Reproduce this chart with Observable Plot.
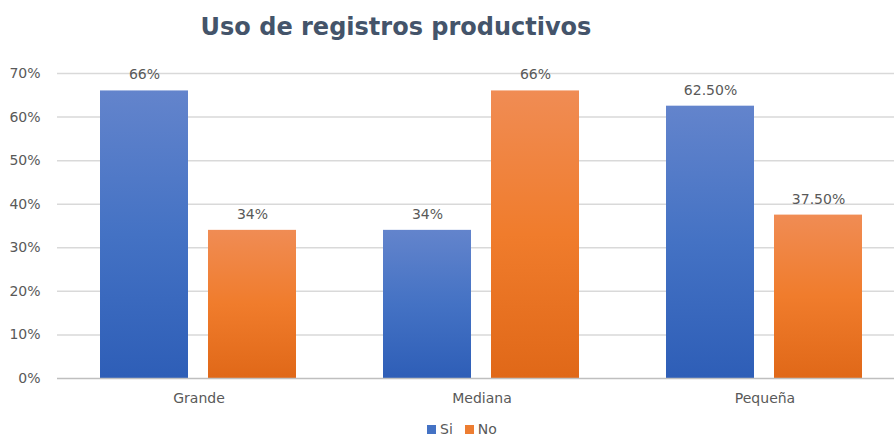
<!DOCTYPE html>
<html>
<head>
<meta charset="utf-8">
<script src="https://cdn.jsdelivr.net/npm/d3@7"></script>
<script src="https://cdn.jsdelivr.net/npm/@observablehq/plot@0.6"></script>
<style>
  html, body { margin: 0; padding: 0; background: #fff; width: 894px; height: 438px; overflow: hidden; position: relative; }
  #title { position: absolute; left: 0; top: 13px; width: 792px; text-align: center; font-family: "DejaVu Sans", sans-serif; font-weight: bold; font-size: 24px; color: #44546a; }
  #chart { position: absolute; left: 0; top: 50px; }
  #legend { position: absolute; top: 422px; left: 427px; height: 14px; line-height: 14px; font-family: "DejaVu Sans", sans-serif; font-size: 14px; color: #595959; display: flex; align-items: center; }
  #legend .sw { display: inline-block; width: 9px; height: 9px; margin-right: 4px; }
  #legend .item { display: flex; align-items: center; margin-right: 12px; }
</style>
</head>
<body>
<div id="title">Uso de registros productivos</div>
<div id="chart"></div>
<div id="legend"></div>
<script>
const groups = ["Grande", "Mediana", "Pequeña"];
const series = ["Si", "No"];
const siValues = [0.66, 0.34, 0.625];
const noValues = [0.34, 0.66, 0.375];
const siLabels = ["66%", "34%", "62.50%"];
const noLabels = ["34%", "66%", "37.50%"];
const yTicks = [0, 0.1, 0.2, 0.3, 0.4, 0.5, 0.6, 0.7];
const seriesColors = ["#4472c4", "#ed7d31"];

const data = [];
groups.forEach((g, i) => {
  data.push({group: g, series: "Si", value: siValues[i], label: siLabels[i]});
  data.push({group: g, series: "No", value: noValues[i], label: noLabels[i]});
});

const font = "DejaVu Sans, sans-serif";

const svg = Plot.plot({
  width: 906,
  height: 368,
  marginLeft: 57,
  marginRight: 0,
  marginTop: 23,
  marginBottom: 40,
  style: {fontFamily: font, fontSize: "14px", color: "#595959", background: "transparent", overflow: "visible", maxWidth: "none"},
  fx: {domain: groups, padding: 0, label: null, axis: "bottom", tickSize: 0, tickPadding: 15},
  x: {domain: series, paddingInner: 0.185, paddingOuter: 0.4, axis: null},
  y: {domain: [0, 0.7], ticks: yTicks, tickFormat: d => Math.round(d * 100) + "%", tickSize: 0, tickPadding: 17, label: null},
  marks: [
    Plot.gridY(yTicks.slice(1), {stroke: "#d9d9d9", strokeOpacity: 1, strokeWidth: 1.5}),
    Plot.barY(data.filter(d => d.series === "Si"), {fx: "group", x: "series", y: "value", fill: "url(#gradSi)"}),
    Plot.barY(data.filter(d => d.series === "No"), {fx: "group", x: "series", y: "value", fill: "url(#gradNo)"}),
    Plot.ruleY([0], {stroke: "#bfbfbf", strokeWidth: 1.5}),
    Plot.text(data, {fx: "group", x: "series", y: "value", text: "label", dy: -16, fill: "#595959", fontSize: 14})
  ]
});
svg.style.maxWidth = "none";

const defs = d3.select(svg).insert("defs", ":first-child");
function grad(id, top, mid, bottom) {
  const lg = defs.append("linearGradient").attr("id", id).attr("x1", 0).attr("y1", 0).attr("x2", 0).attr("y2", 1);
  lg.append("stop").attr("offset", "0%").attr("stop-color", top);
  lg.append("stop").attr("offset", "50%").attr("stop-color", mid);
  lg.append("stop").attr("offset", "100%").attr("stop-color", bottom);
}
grad("gradSi", "#6384cc", "#4472c4", "#2e5eb7");
grad("gradNo", "#f08c54", "#f07c2c", "#e06818");

document.getElementById("chart").appendChild(svg);

const legend = document.getElementById("legend");
series.forEach((s, i) => {
  const item = document.createElement("div");
  item.className = "item";
  const sw = document.createElement("span");
  sw.className = "sw";
  sw.style.background = seriesColors[i];
  item.appendChild(sw);
  item.appendChild(document.createTextNode(s));
  legend.appendChild(item);
});
</script>
</body>
</html>
